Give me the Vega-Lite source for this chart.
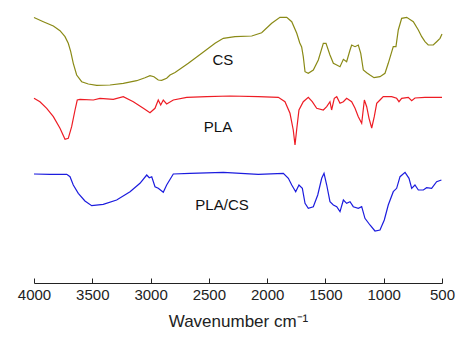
{
  "$schema": "https://vega.github.io/schema/vega-lite/v6.json",
  "autosize": "none",
  "width": 408,
  "height": 278,
  "padding": {"left": 34, "right": 17, "top": 5, "bottom": 61},
  "background": "white",
  "config": {"view": {"stroke": null}, "font": "Liberation Sans"},
  "datasets": {
    "spectra": [
      {"s":"CS","w":4000,"y":265.5},{"s":"CS","w":3920,"y":261.3},{"s":"CS","w":3834,"y":257},{"s":"CS","w":3777,"y":252.3},{"s":"CS","w":3734,"y":246.3},{"s":"CS","w":3706,"y":239.7},{"s":"CS","w":3685,"y":231.3},{"s":"CS","w":3663,"y":219.7},{"s":"CS","w":3634,"y":208},{"s":"CS","w":3591,"y":201.3},{"s":"CS","w":3534,"y":199},{"s":"CS","w":3462,"y":197.7},{"s":"CS","w":3348,"y":198},{"s":"CS","w":3234,"y":199.7},{"s":"CS","w":3119,"y":202.3},{"s":"CS","w":3048,"y":205.3},{"s":"CS","w":3005,"y":207.3},{"s":"CS","w":2971,"y":206.3},{"s":"CS","w":2934,"y":203},{"s":"CS","w":2905,"y":202.7},{"s":"CS","w":2862,"y":204.7},{"s":"CS","w":2833,"y":208},{"s":"CS","w":2790,"y":210.5},{"s":"CS","w":2676,"y":219.7},{"s":"CS","w":2561,"y":229.7},{"s":"CS","w":2447,"y":239.7},{"s":"CS","w":2376,"y":244.7},{"s":"CS","w":2276,"y":246.3},{"s":"CS","w":2132,"y":247},{"s":"CS","w":2047,"y":250.3},{"s":"CS","w":1961,"y":259.7},{"s":"CS","w":1890,"y":265.7},{"s":"CS","w":1832,"y":265.7},{"s":"CS","w":1789,"y":261.3},{"s":"CS","w":1746,"y":249.7},{"s":"CS","w":1720,"y":240},{"s":"CS","w":1704,"y":236},{"s":"CS","w":1690,"y":226.3},{"s":"CS","w":1675,"y":211.3},{"s":"CS","w":1647,"y":209.7},{"s":"CS","w":1604,"y":213},{"s":"CS","w":1561,"y":223},{"s":"CS","w":1518,"y":239.7},{"s":"CS","w":1495,"y":239.7},{"s":"CS","w":1461,"y":228},{"s":"CS","w":1432,"y":219.7},{"s":"CS","w":1403,"y":218},{"s":"CS","w":1375,"y":216.3},{"s":"CS","w":1346,"y":223.7},{"s":"CS","w":1318,"y":221.3},{"s":"CS","w":1289,"y":233},{"s":"CS","w":1275,"y":238},{"s":"CS","w":1246,"y":236.3},{"s":"CS","w":1218,"y":238},{"s":"CS","w":1197,"y":229.7},{"s":"CS","w":1175,"y":213},{"s":"CS","w":1146,"y":210.3},{"s":"CS","w":1118,"y":208},{"s":"CS","w":1083,"y":205.3},{"s":"CS","w":1032,"y":206.3},{"s":"CS","w":989,"y":209.7},{"s":"CS","w":961,"y":219.7},{"s":"CS","w":918,"y":236.3},{"s":"CS","w":895,"y":236.3},{"s":"CS","w":875,"y":253},{"s":"CS","w":846,"y":264.7},{"s":"CS","w":803,"y":265.7},{"s":"CS","w":746,"y":261.3},{"s":"CS","w":703,"y":253},{"s":"CS","w":674,"y":246.3},{"s":"CS","w":646,"y":241.3},{"s":"CS","w":618,"y":238},{"s":"CS","w":575,"y":238},{"s":"CS","w":546,"y":241.3},{"s":"CS","w":517,"y":244.7},{"s":"CS","w":500,"y":249},
      {"s":"PLA","w":4000,"y":184.7},{"s":"PLA","w":3949,"y":181.3},{"s":"PLA","w":3891,"y":174.7},{"s":"PLA","w":3834,"y":166.3},{"s":"PLA","w":3777,"y":154.7},{"s":"PLA","w":3734,"y":143.7},{"s":"PLA","w":3706,"y":144.7},{"s":"PLA","w":3677,"y":156.3},{"s":"PLA","w":3648,"y":173},{"s":"PLA","w":3629,"y":183},{"s":"PLA","w":3605,"y":183.7},{"s":"PLA","w":3491,"y":183},{"s":"PLA","w":3434,"y":184.7},{"s":"PLA","w":3320,"y":183.7},{"s":"PLA","w":3234,"y":186.3},{"s":"PLA","w":3148,"y":181.3},{"s":"PLA","w":3062,"y":174.7},{"s":"PLA","w":3005,"y":170.3},{"s":"PLA","w":2962,"y":174.7},{"s":"PLA","w":2934,"y":183},{"s":"PLA","w":2913,"y":178},{"s":"PLA","w":2891,"y":183},{"s":"PLA","w":2862,"y":179},{"s":"PLA","w":2805,"y":183},{"s":"PLA","w":2690,"y":185.7},{"s":"PLA","w":2518,"y":186.3},{"s":"PLA","w":2319,"y":187},{"s":"PLA","w":2076,"y":186.3},{"s":"PLA","w":1904,"y":185.7},{"s":"PLA","w":1847,"y":181.3},{"s":"PLA","w":1804,"y":169.7},{"s":"PLA","w":1776,"y":153},{"s":"PLA","w":1761,"y":138},{"s":"PLA","w":1747,"y":153},{"s":"PLA","w":1727,"y":173},{"s":"PLA","w":1690,"y":181.3},{"s":"PLA","w":1647,"y":185.7},{"s":"PLA","w":1613,"y":181.3},{"s":"PLA","w":1575,"y":174.7},{"s":"PLA","w":1518,"y":173},{"s":"PLA","w":1489,"y":176.3},{"s":"PLA","w":1461,"y":181.3},{"s":"PLA","w":1447,"y":173},{"s":"PLA","w":1424,"y":184.7},{"s":"PLA","w":1403,"y":186.3},{"s":"PLA","w":1375,"y":179.7},{"s":"PLA","w":1346,"y":181.3},{"s":"PLA","w":1318,"y":184.7},{"s":"PLA","w":1275,"y":181.3},{"s":"PLA","w":1246,"y":174.7},{"s":"PLA","w":1218,"y":166.3},{"s":"PLA","w":1189,"y":159.7},{"s":"PLA","w":1166,"y":183},{"s":"PLA","w":1146,"y":176.3},{"s":"PLA","w":1126,"y":164.7},{"s":"PLA","w":1103,"y":155},{"s":"PLA","w":1081,"y":166.3},{"s":"PLA","w":1060,"y":179.7},{"s":"PLA","w":1032,"y":183},{"s":"PLA","w":1004,"y":186.3},{"s":"PLA","w":932,"y":186.3},{"s":"PLA","w":889,"y":184.7},{"s":"PLA","w":869,"y":181.3},{"s":"PLA","w":846,"y":184.7},{"s":"PLA","w":789,"y":185.7},{"s":"PLA","w":760,"y":182.3},{"s":"PLA","w":732,"y":185},{"s":"PLA","w":646,"y":185.7},{"s":"PLA","w":500,"y":185.7},
      {"s":"PLA/CS","w":4000,"y":109},{"s":"PLA/CS","w":3863,"y":108.7},{"s":"PLA/CS","w":3719,"y":108.7},{"s":"PLA/CS","w":3691,"y":106.3},{"s":"PLA/CS","w":3663,"y":98},{"s":"PLA/CS","w":3620,"y":89.7},{"s":"PLA/CS","w":3563,"y":82},{"s":"PLA/CS","w":3505,"y":77.3},{"s":"PLA/CS","w":3406,"y":78.7},{"s":"PLA/CS","w":3291,"y":83},{"s":"PLA/CS","w":3176,"y":91.3},{"s":"PLA/CS","w":3091,"y":99.7},{"s":"PLA/CS","w":3033,"y":108},{"s":"PLA/CS","w":3011,"y":105.3},{"s":"PLA/CS","w":2990,"y":106.3},{"s":"PLA/CS","w":2962,"y":96.3},{"s":"PLA/CS","w":2934,"y":94.7},{"s":"PLA/CS","w":2891,"y":90.7},{"s":"PLA/CS","w":2862,"y":98},{"s":"PLA/CS","w":2805,"y":109},{"s":"PLA/CS","w":2662,"y":109.7},{"s":"PLA/CS","w":2376,"y":110.7},{"s":"PLA/CS","w":2076,"y":108.7},{"s":"PLA/CS","w":1861,"y":109.7},{"s":"PLA/CS","w":1818,"y":104.7},{"s":"PLA/CS","w":1789,"y":98},{"s":"PLA/CS","w":1755,"y":91.3},{"s":"PLA/CS","w":1727,"y":98},{"s":"PLA/CS","w":1698,"y":94.7},{"s":"PLA/CS","w":1675,"y":79.7},{"s":"PLA/CS","w":1647,"y":74.7},{"s":"PLA/CS","w":1604,"y":76.3},{"s":"PLA/CS","w":1566,"y":88},{"s":"PLA/CS","w":1532,"y":104.7},{"s":"PLA/CS","w":1512,"y":109.7},{"s":"PLA/CS","w":1489,"y":98},{"s":"PLA/CS","w":1461,"y":81.3},{"s":"PLA/CS","w":1432,"y":78},{"s":"PLA/CS","w":1403,"y":76.3},{"s":"PLA/CS","w":1375,"y":71.3},{"s":"PLA/CS","w":1346,"y":83},{"s":"PLA/CS","w":1318,"y":79.7},{"s":"PLA/CS","w":1289,"y":81.3},{"s":"PLA/CS","w":1261,"y":76.3},{"s":"PLA/CS","w":1218,"y":74.7},{"s":"PLA/CS","w":1189,"y":76.3},{"s":"PLA/CS","w":1161,"y":64.7},{"s":"PLA/CS","w":1118,"y":58},{"s":"PLA/CS","w":1075,"y":52},{"s":"PLA/CS","w":1032,"y":53},{"s":"PLA/CS","w":995,"y":63},{"s":"PLA/CS","w":961,"y":78},{"s":"PLA/CS","w":918,"y":91.3},{"s":"PLA/CS","w":889,"y":94.7},{"s":"PLA/CS","w":860,"y":106.3},{"s":"PLA/CS","w":817,"y":110.7},{"s":"PLA/CS","w":783,"y":104.7},{"s":"PLA/CS","w":760,"y":94.7},{"s":"PLA/CS","w":732,"y":98},{"s":"PLA/CS","w":703,"y":93},{"s":"PLA/CS","w":660,"y":93},{"s":"PLA/CS","w":632,"y":95.3},{"s":"PLA/CS","w":589,"y":94.7},{"s":"PLA/CS","w":546,"y":101.3},{"s":"PLA/CS","w":505,"y":103}
    ],
    "labels": [
      {"t":"CS","w":2379,"y":223},
      {"t":"PLA","w":2422,"y":156},
      {"t":"PLA/CS","w":2387,"y":78}
    ]
  },
  "layer": [
    {
      "data": {"name": "spectra"},
      "mark": {"type": "line", "strokeWidth": 1.2, "interpolate": "linear"},
      "encoding": {
        "x": {
          "field": "w", "type": "quantitative",
          "scale": {"domain": [500, 4000], "reverse": true, "nice": false},
          "axis": {
            "values": [4000,3750,3500,3250,3000,2750,2500,2250,2000,1750,1500,1250,1000,750,500],
            "format": "d",
            "labelExpr": "datum.value % 500 === 0 ? datum.label : ''",
            "title": "Wavenumber cm⁻¹",
            "titleFont": "Liberation Sans",
            "titleFontSize": 17,
            "titleFontWeight": "normal",
            "titleColor": "#222222",
            "titlePadding": 11,
            "labelFont": "Liberation Sans",
            "labelFontSize": 15,
            "labelColor": "#222222",
            "labelPadding": 9,
            "labelFlush": false,
            "labelOverlap": false,
            "grid": false,
            "domainColor": "#222222",
            "domainWidth": 1,
            "tickColor": "#222222",
            "tickWidth": 1,
            "tickSize": {"condition": {"test": "datum.value % 500 === 0", "value": -5}, "value": -3}
          }
        },
        "y": {
          "field": "y", "type": "quantitative",
          "scale": {"domain": [0, 278], "nice": false, "zero": false},
          "axis": null
        },
        "color": {
          "field": "s", "type": "nominal",
          "scale": {"domain": ["CS", "PLA", "PLA/CS"], "range": ["#8a8a16", "#ee1c24", "#1c1cde"]},
          "legend": null
        }
      }
    },
    {
      "data": {"name": "labels"},
      "mark": {"type": "text", "font": "Liberation Sans", "fontSize": 15, "color": "#111111", "align": "center", "baseline": "middle"},
      "encoding": {
        "x": {"field": "w", "type": "quantitative"},
        "y": {"field": "y", "type": "quantitative"},
        "text": {"field": "t", "type": "nominal"}
      }
    }
  ]
}
